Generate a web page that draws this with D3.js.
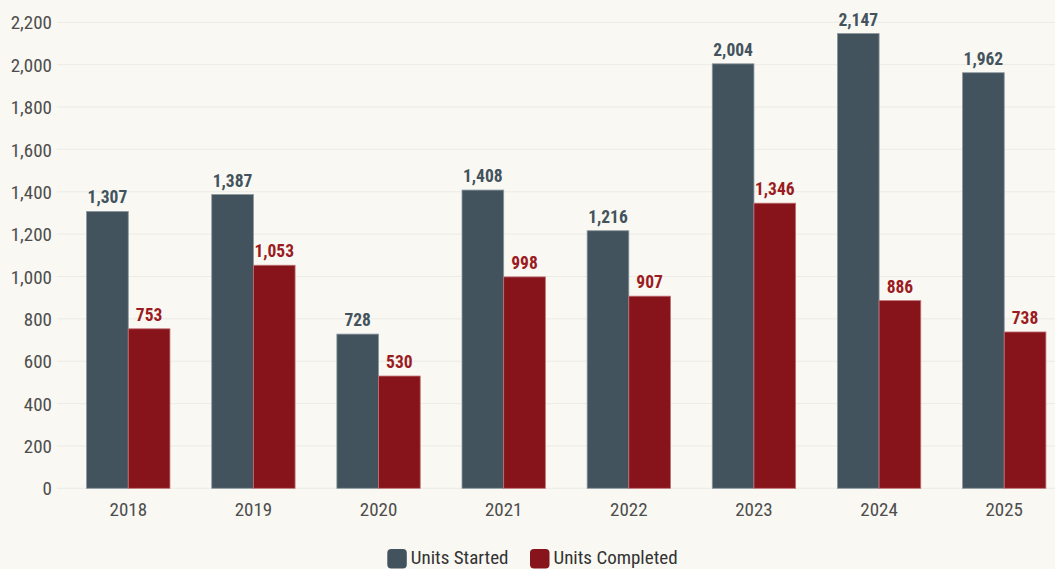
<!DOCTYPE html>
<html>
<head>
<meta charset="utf-8">
<script src="https://cdn.jsdelivr.net/npm/d3@7"></script>
<style>
  html, body { margin: 0; padding: 0; background: #f9f8f2; }
  svg { display: block; }
  text { font-family: "Roboto Condensed", "Liberation Sans Narrow", Roboto, sans-serif; }
</style>
</head>
<body>
<svg id="chart" width="1055" height="569"></svg>
<script>
const years = ["2018", "2019", "2020", "2021", "2022", "2023", "2024", "2025"];
const seriesNames = ["Units Started", "Units Completed"];
const unitsStarted = [1307, 1387, 728, 1408, 1216, 2004, 2147, 1962];
const unitsCompleted = [753, 1053, 530, 998, 907, 1346, 886, 738];
const yTicks = [0, 200, 400, 600, 800, 1000, 1200, 1400, 1600, 1800, 2000, 2200];
const colors = ["#43535d", "#86141a"];
const labelColors = ["#43535d", "#9b1b22"];

const svg = d3.select("#chart");
const W = 1055, H = 569;
svg.append("rect").attr("width", W).attr("height", H).attr("fill", "#f9f8f2");

const y = d3.scaleLinear().domain([0, 2200]).range([488.3, 22.3]);
const x0 = d3.scaleBand().domain(years).range([65.7, 1066.8]).paddingInner(0.334).paddingOuter(0.167);
const x1 = d3.scaleBand().domain(seriesNames).range([0, x0.bandwidth()]);

// gridlines
svg.append("g").selectAll("line").data(yTicks).join("line")
  .attr("x1", 57).attr("x2", W)
  .attr("y1", d => y(d)).attr("y2", d => y(d))
  .attr("stroke", "#ecebe6").attr("stroke-width", 1);

// y axis
const yAxis = svg.append("g").attr("transform", "translate(52,0)")
  .call(d3.axisLeft(y).tickValues(yTicks).tickSize(0).tickPadding(0).tickFormat(d3.format(",")));
yAxis.select(".domain").remove();
yAxis.selectAll("text").attr("font-size", 19).attr("fill", "#4d4d4d").attr("dy", "0.35em");

// x axis
const xAxis = svg.append("g").attr("transform", "translate(0,488.3)")
  .call(d3.axisBottom(x0).tickSize(0).tickPadding(0));
xAxis.select(".domain").remove();
xAxis.selectAll("text").attr("font-size", 19).attr("fill", "#4d4d4d").attr("y", 27.5).attr("dy", 0);

const data = years.map((yr, i) => ({ year: yr, values: [unitsStarted[i], unitsCompleted[i]] }));

const groups = svg.append("g").selectAll("g").data(data).join("g")
  .attr("transform", d => `translate(${x0(d.year)},0)`);

groups.selectAll("rect").data(d => d.values.map((v, j) => ({ key: seriesNames[j], v, j }))).join("rect")
  .attr("x", d => x1(d.key))
  .attr("width", x1.bandwidth())
  .attr("y", d => y(d.v))
  .attr("height", d => y(0) - y(d.v))
  .attr("fill", d => colors[d.j])
  .attr("stroke", d => d.j === 0 ? "#8a979f" : "#c07075")
  .attr("stroke-width", 0.8);

groups.selectAll("text.val").data(d => d.values.map((v, j) => ({ key: seriesNames[j], v, j }))).join("text")
  .attr("class", "val")
  .attr("x", d => x1(d.key) + x1.bandwidth() / 2)
  .attr("y", d => y(d.v) - 8)
  .attr("text-anchor", "middle")
  .attr("font-size", 17.5)
  .attr("font-weight", "bold")
  .attr("fill", d => labelColors[d.j])
  .text(d => d3.format(",")(d.v));

// legend
const legendX = [387.3, 530];
const legend = svg.append("g").selectAll("g").data(seriesNames).join("g")
  .attr("transform", (d, i) => `translate(${legendX[i]},549)`);
legend.append("rect").attr("width", 19.5).attr("height", 19.5).attr("rx", 4)
  .attr("fill", (d, i) => colors[i]);
legend.append("text").attr("x", 23.5).attr("y", 15)
  .attr("font-size", 19).attr("fill", "#333").text(d => d);
</script>
</body>
</html>
